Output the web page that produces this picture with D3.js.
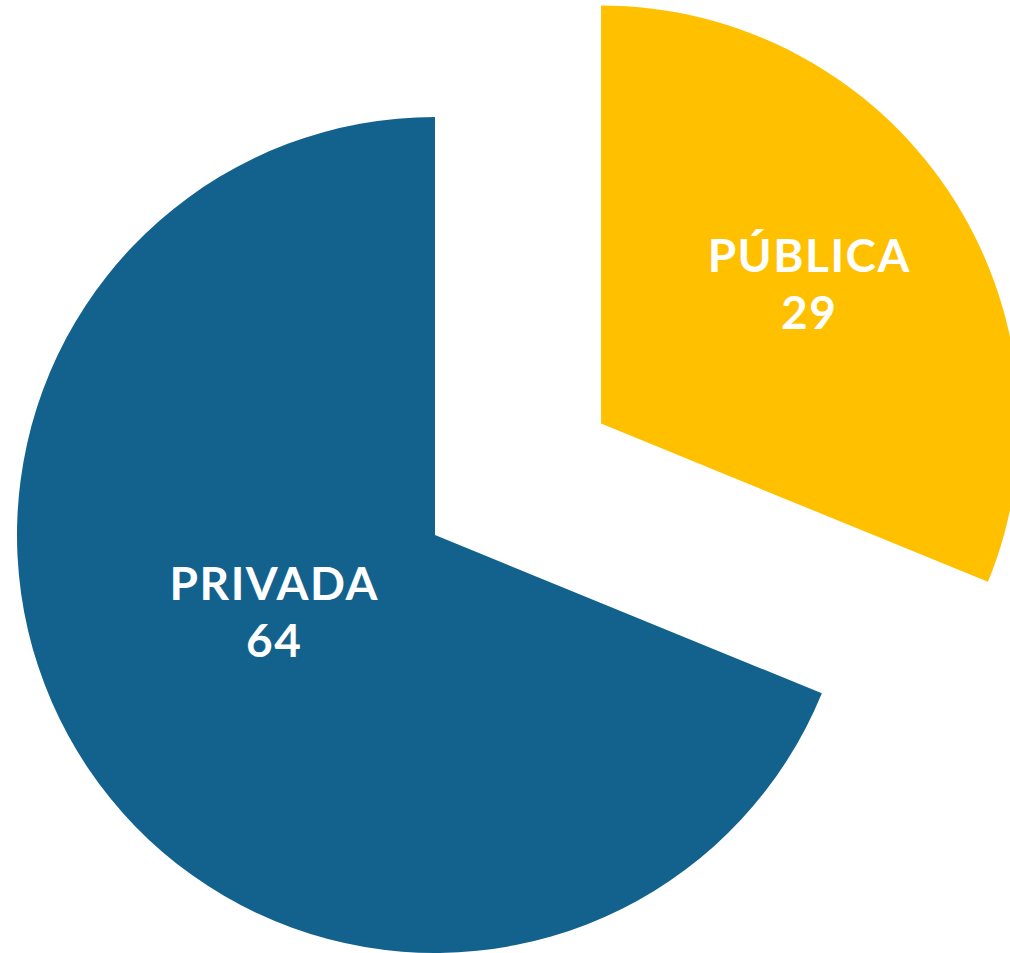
<!DOCTYPE html>
<html>
<head>
<meta charset="utf-8">
<script src="https://cdn.jsdelivr.net/npm/d3@7"></script>
<style>
  body { margin: 0; background: #fff; }
</style>
</head>
<body>
<div id="chart"></div>
<script>
// slices, clockwise from 12 o'clock
var labels = ["PÚBLICA", "PRIVADA"];
var values = [29, 64];
var colors = ["#FFC000", "#13628E"];

var width = 1010;
var height = 953;
var cx = 435, cy = 535;
var radius = 418;
var explode = [200, 0];          // pull-out distance per slice
var labelRadius = [0.6, 0.44];   // label position as fraction of radius
var labelNudge = [[0, 0], [-8, -26]];

var svg = d3.select("#chart").append("svg")
  .attr("width", width)
  .attr("height", height);

var pie = d3.pie().sort(null).value(function (d) { return d; });
var arcs = pie(values);

var arc = d3.arc().innerRadius(0).outerRadius(radius);

var g = svg.append("g").attr("transform", "translate(" + cx + "," + cy + ")");

var slice = g.selectAll("g.slice")
  .data(arcs)
  .enter()
  .append("g")
  .attr("class", "slice")
  .attr("transform", function (d, i) {
    var mid = (d.startAngle + d.endAngle) / 2;
    return "translate(" + (Math.sin(mid) * explode[i]) + "," + (-Math.cos(mid) * explode[i]) + ")";
  });

slice.append("path")
  .attr("d", arc)
  .style("fill", function (d, i) { return colors[i]; });

var label = slice.append("text")
  .attr("transform", function (d, i) {
    var r = radius * labelRadius[i];
    var c = d3.arc().innerRadius(r).outerRadius(r).centroid(d);
    return "translate(" + (c[0] + labelNudge[i][0]) + "," + (c[1] + labelNudge[i][1]) + ")";
  })
  .style("text-anchor", "middle")
  .style("font-family", "Lato")
  .style("font-weight", "bold")
  .style("font-size", "46px")
  .style("letter-spacing", "1.5px")
  .style("fill", "#fff");

label.append("tspan")
  .attr("x", 0)
  .attr("y", -11.5)
  .text(function (d, i) { return labels[i]; });

label.append("tspan")
  .attr("x", 0)
  .attr("y", 45.5)
  .text(function (d) { return d.value; });
</script>
</body>
</html>
